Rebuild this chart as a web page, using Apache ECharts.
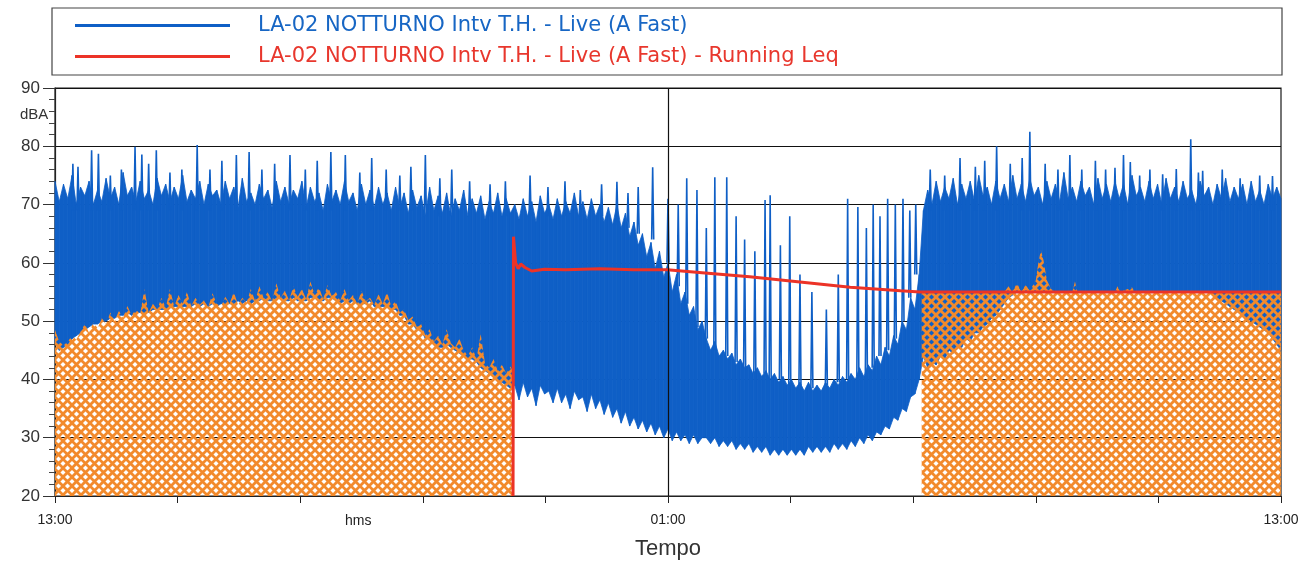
<!DOCTYPE html>
<html>
<head>
<meta charset="utf-8">
<title>LA-02 NOTTURNO</title>
<script src="https://cdn.jsdelivr.net/npm/echarts@6/dist/echarts.min.js"></script>
<style>
  html, body { margin: 0; padding: 0; background: #fff; }
  #chart { width: 1309px; height: 562px; }
</style>
</head>
<body>
<div id="chart"></div>
<script>
// tempo in minuti a partire dalle 13:00 (0 .. 1440)
var xTickLabels = { 0: "13:00", 720: "01:00", 1440: "13:00" };

// livello Live (A Fast): inviluppo min / max ogni 5 minuti
var liveLo = [
  46.5, 45, 45.5, 46, 47, 47.5, 48, 48.5, 49, 49.5,
  49.5, 50, 50, 50.5, 50.5, 51, 51, 51.5, 51, 51.5,
  51.5, 51.5, 51.5, 52, 52, 52, 52, 52.5, 52.5, 52.5,
  52.5, 52.5, 52.5, 53, 52.5, 53, 52.5, 53, 52.5, 53,
  53, 53, 53, 53.5, 53, 53.5, 53, 53.5, 53.5, 54,
  53.5, 53.5, 54, 54, 53.5, 53.5, 54, 53.5, 53.5, 53.5,
  54, 54, 53.5, 53.5, 54, 54, 53.5, 53, 53.5, 53,
  53.5, 53, 53, 53, 53.5, 52.5, 52.5, 52.5, 52.5, 52,
  52, 51, 51, 49.5, 49.5, 48.5, 48.5, 47, 47, 46,
  45.5, 45.5, 46, 45.5, 45, 44.5, 44, 43.5, 43.5, 43,
  42, 41.5, 41, 40.5, 40, 39.5, 39, 38.5,
  39, 36.5, 39.5, 37, 38.5, 35.5, 39, 37.5, 38, 36,
  38.5, 36, 37.5, 35, 38, 36.5, 37, 34.5, 37.5, 35,
  36.5, 34, 36, 33.5, 35, 32.5, 34.5, 32, 33.5, 31.5,
  33, 31, 32.5, 30.5, 32, 30, 31.5, 29.5, 31, 29.5,
  30.5, 29, 30.5, 29, 30,
  30, 29, 30, 28.5, 29.5, 28.5, 29.5, 28, 29, 28,
  29, 27.5, 28.5, 27.5, 28.5, 27, 28, 27, 28, 27,
  28, 27, 28, 27, 28.5, 27.5, 28.5, 27.5, 28.5, 27.5,
  29, 28, 29, 28, 29.5, 28.5, 30, 29, 30.5, 29.5,
  31, 30.5, 32, 31.5, 33.5, 33, 35, 34.5, 37, 37.5, 40,
  44, 42, 43, 42.5, 44, 43.5, 45, 44.5, 46, 45.5,
  47, 46.5, 48, 48, 49, 49.5, 50.5, 51, 52, 53,
  54, 54.5, 55, 55, 55, 55, 55, 55, 55, 55,
  55, 55, 55, 55, 55, 55, 55, 55, 55, 55,
  55, 55, 55, 55, 55, 55, 55, 55, 55, 55,
  55, 55, 55, 55, 55, 55, 55, 55, 55, 55,
  55, 55, 55, 55, 55, 55, 55, 55, 54.5, 54,
  53.5, 53, 52.5, 52, 51.5, 51, 50.5, 50, 49.5, 49,
  48.5, 48, 47, 46, 45
];
var liveHi = [
  74, 70.5, 73.5, 71, 75, 70, 73, 71.5, 74, 70,
  72.5, 70.5, 74.5, 71, 73, 70, 75.5, 71.5, 73, 70.5,
  74, 71, 72.5, 70, 74.5, 71.5, 73.5, 70.5, 73, 71,
  75, 70.5, 72.5, 71, 74, 70, 73.5, 71.5, 72.5, 70,
  74, 71, 73, 69.5, 74.5, 70.5, 72, 70, 73.5, 71,
  72.5, 69.5, 74, 70.5, 73, 70, 72.5, 71, 74, 69.5,
  73, 70.5, 72, 69, 73.5, 70.5, 72.5, 70, 74, 70.5,
  72, 69, 73.5, 70, 72.5, 69.5, 73, 70, 72, 69,
  73, 69.5, 72, 68.5, 72.5, 69.5, 71.5, 68, 73, 69,
  71.5, 68.5, 72, 68, 71, 69, 72.5, 68, 71, 68.5,
  71.5, 67.5, 70.5, 68.5, 72, 68, 71, 68.5,
  70, 67.5, 71, 68, 70.5, 67, 71.5, 68.5, 70, 67.5,
  71, 68, 70.5, 68.5, 72, 68, 70.5, 67.5, 71, 68,
  70, 67, 69.5, 66.5, 70, 66, 68.5, 64.5, 67, 63,
  65, 61, 63.5, 59, 62, 57.5, 60, 55, 58, 53,
  55, 51, 52.5, 48.5, 50,
  47, 45, 46.5, 44, 45, 43.5, 44.5, 42.5, 43.5, 42,
  42.5, 41, 42, 40.5, 41.5, 40, 41, 39.5, 40.5, 39,
  40, 38.5, 39.5, 38, 39.5, 38, 39, 38, 39.5, 38.5,
  40, 39, 40.5, 39.5, 41, 40, 42, 40.5, 42.5, 41.5,
  44, 42.5, 45.5, 44, 47.5, 46, 50, 48.5, 54, 52, 58,
  69, 72.5, 70, 74, 70.5, 73, 71, 74.5, 70, 73.5,
  71, 74, 70.5, 75, 71.5, 73, 70, 74, 71, 73.5,
  70.5, 75, 71, 73.5, 70.5, 74.5, 71.5, 73, 70, 74,
  71, 73.5, 70.5, 75.5, 71, 73, 70.5, 74, 71.5, 73,
  70, 74.5, 71, 73.5, 70.5, 74, 71, 73.5, 70, 75,
  71.5, 73, 70.5, 74, 71, 73.5, 70, 74.5, 71, 73,
  70.5, 74, 71, 72.5, 70, 74, 71.5, 73, 70, 73.5,
  71, 74.5, 70.5, 73, 71, 73.5, 70, 74, 70.5, 72.5,
  70, 73.5, 71, 73, 71
];

// picchi isolati del livello Live
var spikeTime = [
  21, 27, 43, 51, 65, 78, 94, 102, 110, 119, 135, 149, 167, 182, 196, 213, 228, 243, 258, 276,
  294, 308, 324, 341, 358, 372, 389, 405, 418, 435, 452, 466, 487, 511, 529,
  558, 579, 599, 617, 642, 660, 673, 685, 702, 720, 732, 742, 754,
  765, 775, 789, 800, 810, 822, 834, 840, 852, 863, 875, 889, 906, 920, 931, 943, 953, 961, 969, 978, 987, 996, 1004, 1011,
  1028, 1045, 1063, 1081, 1092, 1106, 1122, 1136, 1145, 1163, 1178, 1192, 1206, 1222, 1234, 1245, 1255, 1263, 1274, 1286,
  1301, 1317, 1334, 1343, 1348, 1371, 1392, 1415, 1430
];
var spikeBase = [
  69, 69, 69, 69, 69, 69, 69, 69, 69, 69, 69, 69, 69, 69, 69, 69, 69, 69, 69, 69,
  69, 69, 69, 69, 69, 69, 69, 69, 69, 68, 68, 68, 68, 68, 68,
  68, 68, 68, 68, 68, 67, 66, 65, 64, 60, 56, 53, 49,
  47, 45, 44, 43, 42, 41, 41, 40, 40, 39, 39, 38.5, 39, 39.5, 40, 40.5, 41, 42, 44, 45, 47, 50, 54, 58,
  69, 69, 69, 69, 69, 69, 69, 69, 69, 69, 69, 69, 69, 69, 69, 69, 69, 69, 69, 69,
  69, 69, 69, 69, 69, 69, 69, 69, 69
];
var spikePeak = [
  77, 76.5, 79.3, 78.7, 75, 76, 79.9, 78.6, 77, 79.3, 75.5, 76, 80.2, 76, 77.5, 78.5, 79, 76, 77, 78.5,
  76, 77.5, 79, 78.5, 75.5, 78, 76, 75, 76.5, 78.5, 74.5, 76, 74, 73.5, 74,
  75, 73, 74, 72.5, 73.5, 73.9, 72, 73, 76.4, 71, 70, 74.5, 72.5,
  66, 74.7, 74.7, 68, 64, 62, 70.8, 71.6, 63, 68, 58, 55, 52, 58, 71, 69.6, 66, 70, 68, 71, 70, 71, 69, 70,
  76, 75, 78, 76.5, 77.5, 80, 77, 78, 82.5, 77, 76, 78.5, 76, 77.5, 76, 76.3, 78.5, 77.3, 75, 76,
  75.2, 76.1, 81.2, 75.5, 75.8, 76, 74.5, 75, 74.9
];

// Running Leq
var leqTime = [538, 538.5, 541, 544, 547, 552, 560, 575, 600, 640, 680, 719, 760, 816, 875, 934, 993, 1016, 1100, 1200, 1300, 1440];
var leqVal  = [20, 64.5, 60, 59, 59.8, 59.2, 58.6, 58.9, 58.8, 59, 58.8, 58.8, 58.3, 57.6, 56.7, 55.8, 55.2, 55, 55, 55, 55, 55];

// zone tratteggiate (mascherate): prima parte ogni 5 minuti
var maskATop = [
  48.5, 46.5, 45.8, 46.5, 47.5, 46.8, 48.2, 49.5, 48, 49.8,
  48.8, 50.5, 49.5, 51.5, 50, 51.8, 50.6, 52.6, 51, 52,
  51.2, 55.5, 51.5, 53, 52, 54, 52.3, 55.5, 52.5, 54.5,
  53, 55, 52.6, 54, 52.8, 53.6, 52.4, 54.8, 53, 52.5,
  54.2, 53, 55, 52.8, 54, 53.2, 55.5, 53.5, 56, 54,
  55, 53.4, 56.5, 54, 55.2, 53.6, 56, 54.2, 55.5, 53.8,
  56.8, 54.5, 55.8, 53.8, 56.2, 54.3, 55, 53.5, 55.5, 53.6,
  54.5, 53, 55.2, 53.4, 54, 52.8, 54.6, 53, 55, 52.5,
  53.5, 51.5, 52, 50.2, 50.8, 49, 49.5, 47.6, 48.6, 46.5,
  47.5, 46, 48.6, 46.2, 45.5, 47, 45, 44, 45.5, 43.5,
  47.8, 42.8, 42, 43.5, 41.5, 42.5, 41, 42.2, 41.5
];
var maskDTime = [1018, 1115, 1120, 1124, 1130, 1135, 1140, 1145, 1152, 1155, 1158, 1161, 1165, 1170, 1175, 1195, 1198, 1201, 1245, 1248, 1251, 1265, 1268, 1440];
var maskDTop  = [55, 55, 56, 55, 56.5, 55, 56.2, 55.2, 57, 60, 62.2, 60.5, 57, 55.5, 55, 55, 56.8, 55, 55, 56, 55, 55.8, 55, 55];

var nameLive = "LA-02 NOTTURNO Intv T.H. - Live (A Fast)";
var nameLeq = "LA-02 NOTTURNO Intv T.H. - Live (A Fast) - Running Leq";

var blue = "#0f5fc6";
var red = "#ec3327";
var orange = "#f28a2c";

// tratteggio incrociato arancione (fori trasparenti)
function hatch() {
  var size = 9;
  var c = document.createElement("canvas");
  c.width = size;
  c.height = size;
  var ctx = c.getContext("2d");
  ctx.strokeStyle = orange;
  ctx.lineWidth = 2.8;
  for (var d = -size; d <= size; d += size) {
    ctx.beginPath();
    ctx.moveTo(d, 0);
    ctx.lineTo(d + size, size);
    ctx.moveTo(d, size);
    ctx.lineTo(d + size, 0);
    ctx.stroke();
  }
  return c;
}

var bandTime = liveLo.map(function (v, i) { return i * 5; });
var bandData = [];
for (var i = 0; i < bandTime.length - 1; i++) {
  bandData.push([bandTime[i], bandTime[i + 1], liveLo[i], liveLo[i + 1], liveHi[i], liveHi[i + 1]]);
}

var spikeData = [];
spikeTime.forEach(function (t, i) {
  spikeData.push([t - 1.2, spikeBase[i]], [t, spikePeak[i]], [t + 1.2, spikeBase[i]], [t + 1.2, "-"]);
});

var maskData = maskATop.map(function (v, i) {
  return [i < maskATop.length - 1 ? i * 5 : 537.5, v];
});
maskData.push([700, "-"]);
maskDTime.forEach(function (t, i) { maskData.push([t, maskDTop[i]]); });

var leqData = leqTime.map(function (t, i) { return [t, leqVal[i]]; });

var myChart = echarts.init(document.getElementById("chart"));

var option = {
  animation: false,
  backgroundColor: "#fff",
  textStyle: { fontFamily: "Liberation Sans, Arial, sans-serif" },
  grid: {
    left: 55,
    right: 28,
    top: 88,
    bottom: 66,
    outerBoundsMode: "none",
    show: true,
    borderColor: "#1a1a1a",
    borderWidth: 1.2,
  },
  legend: {
    orient: "vertical",
    left: 70,
    top: 10,
    itemWidth: 155,
    itemHeight: 3,
    itemGap: 10,
    textStyle: { fontSize: 21, fontFamily: "DejaVu Sans, sans-serif", padding: [0, 0, 0, 23] },
    data: [
      { name: nameLive, icon: "rect", textStyle: { color: "#1766c4" } },
      { name: nameLeq, icon: "rect", textStyle: { color: "#e8372d" } },
    ],
  },
  graphic: [
    {
      type: "rect",
      shape: { x: 52, y: 8, width: 1230, height: 67 },
      style: { fill: null, stroke: "#444", lineWidth: 1.2 },
      silent: true,
    },
    {
      type: "text",
      left: 20,
      top: 107,
      style: { text: "dBA", fontSize: 15, fill: "#333", fontFamily: "Liberation Sans, Arial" },
    },
    {
      type: "text",
      left: 345,
      top: 514,
      style: { text: "hms", fontSize: 14, fill: "#222", fontFamily: "Liberation Sans, Arial" },
    },
  ],
  xAxis: {
    type: "value",
    min: 0,
    max: 1440,
    interval: 144,
    name: "Tempo",
    nameLocation: "middle",
    nameGap: 42,
    nameTextStyle: { fontSize: 22, color: "#333" },
    axisLine: { lineStyle: { color: "#222", width: 1.2 } },
    axisTick: { length: 7, lineStyle: { color: "#222" } },
    axisLabel: {
      margin: 17,
      fontSize: 14,
      color: "#222",
      showMinLabel: true,
      showMaxLabel: true,
      formatter: function (v) { return xTickLabels[v] || ""; },
    },
    splitLine: { show: false },
  },
  yAxis: {
    type: "value",
    min: 20,
    max: 90,
    interval: 10,
    axisLine: { show: true, lineStyle: { color: "#222", width: 1.2 } },
    axisTick: { show: true, length: 12, lineStyle: { color: "#333" } },
    minorTick: { show: true, splitNumber: 5, length: 6, lineStyle: { color: "#444" } },
    axisLabel: { fontSize: 17, color: "#333", margin: 15 },
    splitLine: { show: true, lineStyle: { color: "#111", width: 1.2 } },
  },
  series: [
    {
      name: "band",
      type: "custom",
      silent: true,
      encode: { x: [0, 1], y: [2, 3, 4, 5] },
      data: bandData,
      renderItem: function (params, api) {
        var pts = [
          api.coord([api.value(0), api.value(2)]),
          api.coord([api.value(1), api.value(3)]),
          api.coord([api.value(1), api.value(5)]),
          api.coord([api.value(0), api.value(4)]),
        ];
        return {
          type: "polygon",
          shape: { points: pts },
          style: { fill: blue, stroke: blue, lineWidth: 0.8 },
        };
      },
    },
    {
      name: nameLive,
      type: "line",
      data: spikeData,
      symbol: "none",
      lineStyle: { color: blue, width: 1.6 },
      itemStyle: { color: blue },
      markLine: {
        silent: true,
        symbol: "none",
        label: { show: false },
        lineStyle: { color: "#111", width: 1.2, type: "solid" },
        data: [{ xAxis: 720 }],
      },
    },
    {
      name: "mask",
      type: "line",
      data: maskData,
      symbol: "none",
      lineStyle: { opacity: 0 },
      areaStyle: { origin: "start", opacity: 1, color: { image: hatch(), repeat: "repeat" } },
    },
    {
      name: nameLeq,
      type: "line",
      data: leqData,
      symbol: "none",
      lineStyle: { color: red, width: 3 },
      itemStyle: { color: red },
    },
  ],
};

myChart.setOption(option);
</script>
</body>
</html>
